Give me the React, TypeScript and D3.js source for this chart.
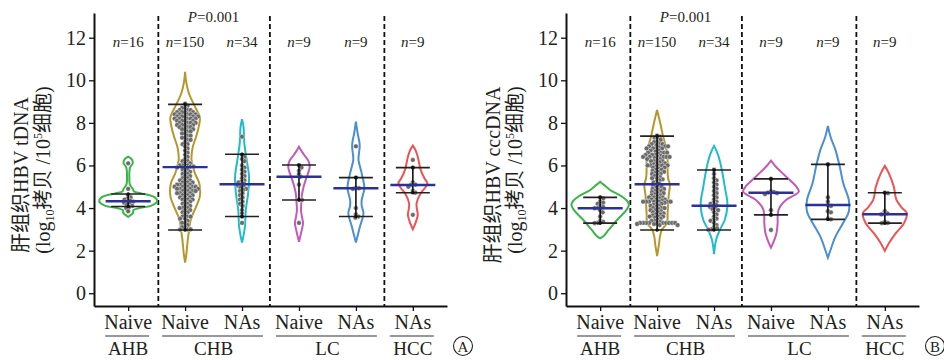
import React, { useEffect, useRef } from 'react';
import * as d3 from 'd3';

// shared categories / layout labels
const categories = ['Naive', 'Naive', 'NAs', 'Naive', 'NAs', 'NAs'];
const groupNames = ['AHB', 'CHB', 'LC', 'HCC'];
const groupSpans = [[1, 1], [2, 3], [4, 5], [6, 6]];
const sampleSizes = ['16', '150', '34', '9', '9', '9'];
const yTicks = [0, 2, 4, 6, 8, 10, 12];
const dividers = [1.53, 3.49, 5.5];
const violinColors = ['#3bb44a', '#b5972c', '#20bccb', '#c15ab9', '#4a8ed3', '#ee5353'];

// Panel A: tDNA, log10 copies / 1e5 cells
const tdnaPoints = [
  [6.1, 4.9, 4.6, 4.5, 4.45, 4.4, 4.35, 4.3, 4.3, 4.25, 4.2, 4.15, 4.1, 4.05, 4.0, 3.85],
  [8.9, 8.8, 8.7, 8.7, 8.6, 8.6, 8.6, 8.5, 8.5, 8.5, 8.5, 8.4, 8.4, 8.4, 8.4, 8.4, 8.3, 8.3, 8.3, 8.3,
    8.3, 8.2, 8.2, 8.2, 8.2, 8.2, 8.1, 8.1, 8.1, 8.1, 8.0, 8.0, 8.0, 8.0, 7.9, 7.9, 7.9, 7.9, 7.8, 7.8,
    7.8, 7.7, 7.7, 7.7, 7.6, 7.6, 7.5, 7.5, 7.4, 7.4, 7.3, 7.3, 7.2, 7.2, 7.1, 7.0, 7.0, 6.9, 6.8, 6.7,
    6.6, 6.5, 6.4, 6.3, 6.2, 6.2, 6.1, 6.1, 6.0, 6.0, 6.0, 5.95, 5.95, 5.9, 5.9,
    5.8, 5.8, 5.7, 5.7, 5.6, 5.6, 5.5, 5.5, 5.4, 5.4, 5.3, 5.3, 5.3, 5.2, 5.2, 5.2, 5.1, 5.1, 5.1, 5.1,
    5.0, 5.0, 5.0, 5.0, 5.0, 4.9, 4.9, 4.9, 4.9, 4.9, 4.8, 4.8, 4.8, 4.8, 4.7, 4.7, 4.7, 4.7, 4.6, 4.6,
    4.6, 4.5, 4.5, 4.5, 4.4, 4.4, 4.4, 4.3, 4.3, 4.2, 4.2, 4.1, 4.1, 4.0, 4.0, 3.9, 3.9, 3.8, 3.8, 3.7,
    3.6, 3.6, 3.5, 3.5, 3.4, 3.3, 3.2, 3.1, 3.1, 3.0, 3.0, 2.99, 3.3, 3.6, 4.0],
  [7.35, 6.5, 6.4, 6.3, 6.2, 6.0, 5.9, 5.8, 5.7, 5.6, 5.5, 5.4, 5.3, 5.25, 5.2, 5.15, 5.1,
    5.05, 5.0, 4.95, 4.9, 4.85, 4.8, 4.7, 4.6, 4.5, 4.4, 4.3, 4.2, 4.1, 3.9, 3.75, 3.6, 3.3],
  [6.0, 5.9, 5.75, 5.6, 5.47, 5.1, 4.4, 4.38, 3.3],
  [6.9, 5.43, 4.95, 4.93, 4.9, 4.0, 3.7, 3.6, 3.55],
  [6.26, 5.9, 5.2, 5.1, 5.08, 5.0, 4.8, 4.72, 3.68],
];
// violin outlines: [value, relative half width]
const tdnaOutlines = [
  [[6.42, 0], [6.3, 0.12], [6.1, 0.16], [5.95, 0.08], [5.8, 0.05], [5.4, 0.04], [5.1, 0.06], [4.9, 0.16],
    [4.78, 0.2], [4.69, 0.45], [4.5, 0.92], [4.32, 1.0], [4.11, 0.8], [3.99, 0.35], [3.9, 0.18], [3.78, 0.17],
    [3.68, 0.1], [3.58, 0]],
  [[10.4, 0], [9.9, 0.04], [9.39, 0.13], [8.76, 0.34], [8.3, 0.5], [8.14, 0.51], [7.7, 0.45], [7.35, 0.38],
    [6.9, 0.27], [6.57, 0.23], [6.26, 0.22], [5.9, 0.28], [5.63, 0.34], [5.2, 0.48], [4.85, 0.52], [4.5, 0.5],
    [4.23, 0.43], [3.9, 0.33], [3.6, 0.23], [3.3, 0.17], [2.97, 0.14], [2.6, 0.1], [2.19, 0.07], [1.8, 0.04], [1.44, 0]],
  [[8.17, 0], [7.82, 0.05], [7.04, 0.08], [6.26, 0.16], [5.48, 0.24], [4.69, 0.21], [3.91, 0.13], [3.13, 0.1],
    [2.7, 0.05], [2.38, 0]],
  [[6.88, 0], [6.65, 0.1], [6.49, 0.18], [6.2, 0.33], [5.94, 0.37], [5.7, 0.33], [5.47, 0.27], [5.0, 0.16],
    [4.6, 0.1], [4.38, 0.09], [3.91, 0.07], [3.6, 0.1], [3.29, 0.14], [3.0, 0.1], [2.82, 0.07], [2.42, 0]],
  [[8.06, 0], [7.51, 0.06], [7.1, 0.12], [6.88, 0.13], [6.5, 0.1], [6.26, 0.09], [5.63, 0.2], [4.93, 0.29],
    [4.38, 0.2], [4.1, 0.2], [3.76, 0.26], [3.13, 0.14], [2.7, 0.06], [2.38, 0]],
  [[6.93, 0], [6.7, 0.1], [6.41, 0.17], [5.79, 0.27], [5.4, 0.4], [5.16, 0.5], [4.95, 0.42], [4.69, 0.27],
    [4.23, 0.13], [3.95, 0.14], [3.68, 0.17], [3.29, 0.09], [3.0, 0]],
];
const tdnaMedian = [4.32, 5.92, 5.12, 5.47, 4.93, 5.08];
const tdnaLow = [4.07, 2.97, 3.6, 4.38, 3.6, 4.72];
const tdnaHigh = [4.66, 8.87, 6.53, 6.02, 5.43, 5.9];

// Panel B: cccDNA
const cccPoints = [
  [4.5, 4.45, 4.3, 4.25, 4.2, 4.1, 4.05, 4.0, 3.99, 3.9, 3.8, 3.6, 3.4, 3.35, 3.3, 3.29],
  [7.4, 7.35, 7.3, 7.25, 7.2, 7.1, 7.1, 7.0, 7.0, 7.0, 6.95, 6.9, 6.9, 6.9, 6.85, 6.8, 6.8, 6.8, 6.8,
    6.7, 6.7, 6.65, 6.6, 6.6, 6.6, 6.6, 6.55, 6.5, 6.5, 6.5, 6.45, 6.4, 6.4, 6.4, 6.4, 6.4, 6.4,
    6.35, 6.3, 6.3, 6.25, 6.2, 6.2, 6.2, 6.15, 6.1, 6.1, 6.05, 6.0, 6.0, 6.0, 6.0, 6.0,
    5.95, 5.9, 5.9, 5.85, 5.8, 5.8, 5.75, 5.7, 5.7, 5.65, 5.6, 5.6,
    5.55, 5.5, 5.45, 5.4, 5.4, 5.35, 5.3, 5.25, 5.2, 5.15,
    5.1, 5.05, 5.0, 5.0, 4.95, 4.9, 4.9, 4.85, 4.8, 4.8,
    4.75, 4.7, 4.7, 4.65, 4.6, 4.6, 4.55, 4.5, 4.5, 4.5, 4.45, 4.4, 4.4, 4.4,
    4.35, 4.3, 4.3, 4.3, 4.3, 4.3, 4.3, 4.3, 4.25, 4.2, 4.2, 4.15, 4.1, 4.1, 4.05, 4.0, 4.0, 4.0,
    3.95, 3.9, 3.9, 3.85, 3.8, 3.8, 3.75, 3.7, 3.7, 3.65, 3.6, 3.6, 3.6,
    3.55, 3.5, 3.45, 3.4, 3.4, 3.35, 3.3, 3.3, 3.3, 3.3, 3.3, 3.3, 3.3, 3.3, 3.3, 3.3, 3.25, 3.25, 3.2, 3.2],
  [5.8, 5.6, 5.4, 5.3, 5.2, 5.1, 5.0, 4.9, 4.8, 4.7, 4.6, 4.5, 4.4, 4.3, 4.25, 4.2, 4.15,
    4.1, 4.05, 4.0, 3.95, 3.9, 3.8, 3.7, 3.6, 3.5, 3.45, 3.4, 3.3, 3.2, 3.1, 3.05, 3.0, 2.98],
  [5.37, 4.78, 4.75, 4.72, 4.7, 4.65, 3.9, 3.68, 2.97],
  [6.05, 4.5, 4.3, 4.14, 4.1, 3.85, 3.8, 3.5, 3.47],
  [4.72, 4.7, 3.85, 3.75, 3.71, 3.7, 3.35, 3.3, 3.29],
];
const cccOutlines = [
  [[5.24, 0], [5.1, 0.12], [4.85, 0.34], [4.54, 0.75], [4.3, 0.95], [4.15, 0.99], [4.0, 0.95], [3.83, 0.86],
    [3.44, 0.58], [2.97, 0.29], [2.66, 0.1], [2.58, 0]],
  [[8.6, 0], [7.98, 0.11], [7.35, 0.21], [6.9, 0.3], [6.4, 0.36], [5.9, 0.36], [5.4, 0.38], [5.1, 0.44],
    [4.6, 0.4], [4.2, 0.38], [3.7, 0.36], [3.29, 0.34], [2.97, 0.16], [2.6, 0.09], [2.35, 0.07], [1.75, 0]],
  [[6.92, 0], [6.7, 0.08], [6.41, 0.16], [5.79, 0.27], [4.85, 0.39], [4.4, 0.45], [4.07, 0.46], [3.44, 0.37],
    [2.97, 0.2], [2.5, 0.07], [1.83, 0]],
  [[6.23, 0], [5.94, 0.17], [5.7, 0.35], [5.4, 0.58], [5.05, 0.85], [4.77, 0.96], [4.6, 0.8], [4.38, 0.52],
    [4.1, 0.33], [3.91, 0.26], [3.6, 0.23], [3.29, 0.23], [2.82, 0.19], [2.35, 0.07], [2.14, 0]],
  [[7.85, 0], [7.35, 0.09], [6.73, 0.26], [5.94, 0.41], [5.16, 0.53], [4.38, 0.72], [3.83, 0.72], [3.29, 0.52],
    [2.66, 0.26], [2.03, 0.09], [1.67, 0]],
  [[5.98, 0], [5.63, 0.14], [5.0, 0.31], [4.38, 0.4], [4.0, 0.6], [3.76, 0.76], [3.29, 0.66], [2.82, 0.38],
    [2.35, 0.14], [1.99, 0]],
];
const cccMedian = [3.99, 5.12, 4.11, 4.72, 4.14, 3.71];
const cccLow = [3.29, 2.97, 2.97, 3.68, 3.47, 3.29];
const cccHigh = [4.5, 7.38, 5.79, 5.37, 6.05, 4.72];

const SERIF = '"Liberation Serif", "Noto Sans CJK SC", serif';

// simple dodge so dots at similar values sit side by side
function swarm(values: number[], y: (v: number) => number, diam: number) {
  const sorted = values.map(v => ({ v, y: y(v), x: 0 })).sort((a, b) => a.y - b.y);
  const placed: { x: number; y: number }[] = [];
  sorted.forEach(p => {
    for (let k = 0; k < 400; k++) {
      const off = (k % 2 === 1 ? 1 : -1) * Math.ceil(k / 2) * 0.5;
      const hit = placed.some(q => {
        const dy = q.y - p.y;
        const dx = q.x - off;
        return dx * dx + dy * dy < diam * diam;
      });
      if (!hit) { p.x = off; break; }
    }
    placed.push({ x: p.x, y: p.y });
  });
  return sorted;
}

interface PanelProps {
  left: number;
  title: string;
  tag: string;
  points: number[][];
  outlines: number[][][];
  median: number[];
  low: number[];
  high: number[];
}

function drawPanel(svg: d3.Selection<SVGSVGElement, unknown, null, undefined>, p: PanelProps) {
  const top = 13, bottom = 306, width = 353;
  const y = d3.scaleLinear().domain([-0.6, 13.16]).range([bottom, top]);
  const x = d3.scaleLinear().domain([0.4, 6.6]).range([p.left, p.left + width]);
  const w = d3.scaleLinear().domain([0, 1]).range([0, 29]);
  const g = svg.append('g');

  // axes
  const ya = g.append('g').attr('transform', `translate(${p.left},0)`)
    .call(d3.axisLeft(y).tickValues(yTicks).tickSize(5).tickSizeOuter(0).tickPadding(3));
  ya.select('.domain').attr('stroke-width', 2).attr('stroke', '#111');
  ya.selectAll('.tick line').attr('stroke-width', 1.3).attr('stroke', '#111');
  ya.selectAll('.tick text').attr('font-family', SERIF).attr('font-size', 20).attr('fill', '#231f20');

  const xa = g.append('g').attr('transform', `translate(0,${bottom})`)
    .call(d3.axisBottom(x).tickValues([1, 2, 3, 4, 5, 6]).tickFormat(() => '').tickSize(5).tickSizeOuter(0));
  xa.select('.domain').attr('stroke-width', 2).attr('stroke', '#111');
  xa.selectAll('.tick line').attr('stroke-width', 1.3).attr('stroke', '#111');

  // dashed dividers
  dividers.forEach(d => {
    g.append('line')
      .attr('x1', x(d)).attr('x2', x(d))
      .attr('y1', 16).attr('y2', bottom)
      .attr('stroke', '#111').attr('stroke-width', 1.8).attr('stroke-dasharray', '5,3');
  });

  // violins, dots, error bars
  p.outlines.forEach((outline, i) => {
    const cx = x(i + 1);
    const area = d3.area<number[]>()
      .y(d => y(d[0]))
      .x0(d => cx - w(d[1]))
      .x1(d => cx + w(d[1]))
      .curve(d3.curveCatmullRom);
    g.append('path')
      .attr('d', area(outline))
      .attr('fill', 'none')
      .attr('stroke', violinColors[i])
      .attr('stroke-width', 2);

    const dots = swarm(p.points[i], y, 3);
    g.selectAll(null)
      .data(dots)
      .enter()
      .append('circle')
      .attr('cx', d => cx + d.x)
      .attr('cy', d => d.y)
      .attr('r', 2.4)
      .attr('fill', '#6a6a6a')
      .attr('stroke', '#fff')
      .attr('stroke-width', 0.4);

    g.append('line')
      .attr('x1', cx).attr('x2', cx)
      .attr('y1', y(p.low[i])).attr('y2', y(p.high[i]))
      .attr('stroke', '#111').attr('stroke-width', 1.6);
    [p.low[i], p.high[i]].forEach(v => {
      g.append('line')
        .attr('x1', cx - 17).attr('x2', cx + 17)
        .attr('y1', y(v)).attr('y2', y(v))
        .attr('stroke', '#222').attr('stroke-width', 1.6);
      g.append('circle').attr('cx', cx).attr('cy', y(v)).attr('r', 1.8).attr('fill', '#111');
    });
    g.append('line')
      .attr('x1', cx - 22.5).attr('x2', cx + 22.5)
      .attr('y1', y(p.median[i])).attr('y2', y(p.median[i]))
      .attr('stroke', '#2b3197').attr('stroke-width', 2.4);
  });

  // n labels
  sampleSizes.forEach((n, i) => {
    const t = g.append('text')
      .attr('x', x(i + 1)).attr('y', 46.5)
      .attr('text-anchor', 'middle')
      .attr('font-family', SERIF).attr('font-size', 15).attr('fill', '#231f20');
    t.append('tspan').attr('font-style', 'italic').text('n');
    t.append('tspan').text(`=${n}`);
  });
  const pt = g.append('text')
    .attr('x', x(2.5)).attr('y', 21.5)
    .attr('text-anchor', 'middle')
    .attr('font-family', SERIF).attr('font-size', 15).attr('fill', '#231f20');
  pt.append('tspan').attr('font-style', 'italic').text('P');
  pt.append('tspan').text('=0.001');

  // category labels with group underline
  categories.forEach((c, i) => {
    g.append('text')
      .attr('x', x(i + 1)).attr('y', 329)
      .attr('text-anchor', 'middle')
      .attr('font-family', SERIF).attr('font-size', 20).attr('fill', '#231f20')
      .text(c);
  });
  groupNames.forEach((name, i) => {
    const [a, b] = groupSpans[i];
    g.append('line')
      .attr('x1', x(a) - 23).attr('x2', x(b) + 21)
      .attr('y1', 336).attr('y2', 336)
      .attr('stroke', '#333').attr('stroke-width', 1.2);
    g.append('text')
      .attr('x', (x(a) + x(b)) / 2).attr('y', 355)
      .attr('text-anchor', 'middle')
      .attr('font-family', SERIF).attr('font-size', 19).attr('fill', '#231f20')
      .text(name);
  });

  // panel tag
  const tagX = p.left + width + 16;
  g.append('circle').attr('cx', tagX).attr('cy', 346).attr('r', 9.5)
    .attr('fill', 'none').attr('stroke', '#222').attr('stroke-width', 1.1);
  g.append('text').attr('x', tagX).attr('y', 351.5)
    .attr('text-anchor', 'middle')
    .attr('font-family', SERIF).attr('font-size', 15).attr('fill', '#222')
    .text(p.tag);

  // y title, two lines
  const cy = 175;
  g.append('text')
    .attr('transform', `translate(${p.left - 66},${cy}) rotate(-90)`)
    .attr('text-anchor', 'middle')
    .attr('font-family', SERIF).attr('font-size', 20).attr('fill', '#231f20')
    .text(p.title);
  const t2 = g.append('text')
    .attr('transform', `translate(${p.left - 44},${cy - 5}) rotate(-90)`)
    .attr('text-anchor', 'middle')
    .attr('font-family', SERIF).attr('font-size', 20).attr('fill', '#231f20');
  t2.append('tspan').text('(log');
  t2.append('tspan').attr('font-size', 12).attr('dy', 4).text('10');
  t2.append('tspan').attr('dy', -4).text('拷贝 /10');
  t2.append('tspan').attr('font-size', 12).attr('dy', -8).text('5');
  t2.append('tspan').attr('dy', 8).text('细胞)');
}

export default function App() {
  const svgRef = useRef<SVGSVGElement>(null);

  useEffect(() => {
    if (!svgRef.current) return;
    const svg = d3.select(svgRef.current);
    svg.selectAll('*').remove();

    drawPanel(svg, {
      left: 94, title: '肝组织HBV tDNA', tag: 'A',
      points: tdnaPoints, outlines: tdnaOutlines,
      median: tdnaMedian, low: tdnaLow, high: tdnaHigh,
    });
    drawPanel(svg, {
      left: 566, title: '肝组织HBV cccDNA', tag: 'B',
      points: cccPoints, outlines: cccOutlines,
      median: cccMedian, low: cccLow, high: cccHigh,
    });
  }, []);

  return (
    <svg ref={svgRef} width={944} height={360}
      style={{ position: 'absolute', left: 0, top: 0, background: '#fff' }} />
  );
}
